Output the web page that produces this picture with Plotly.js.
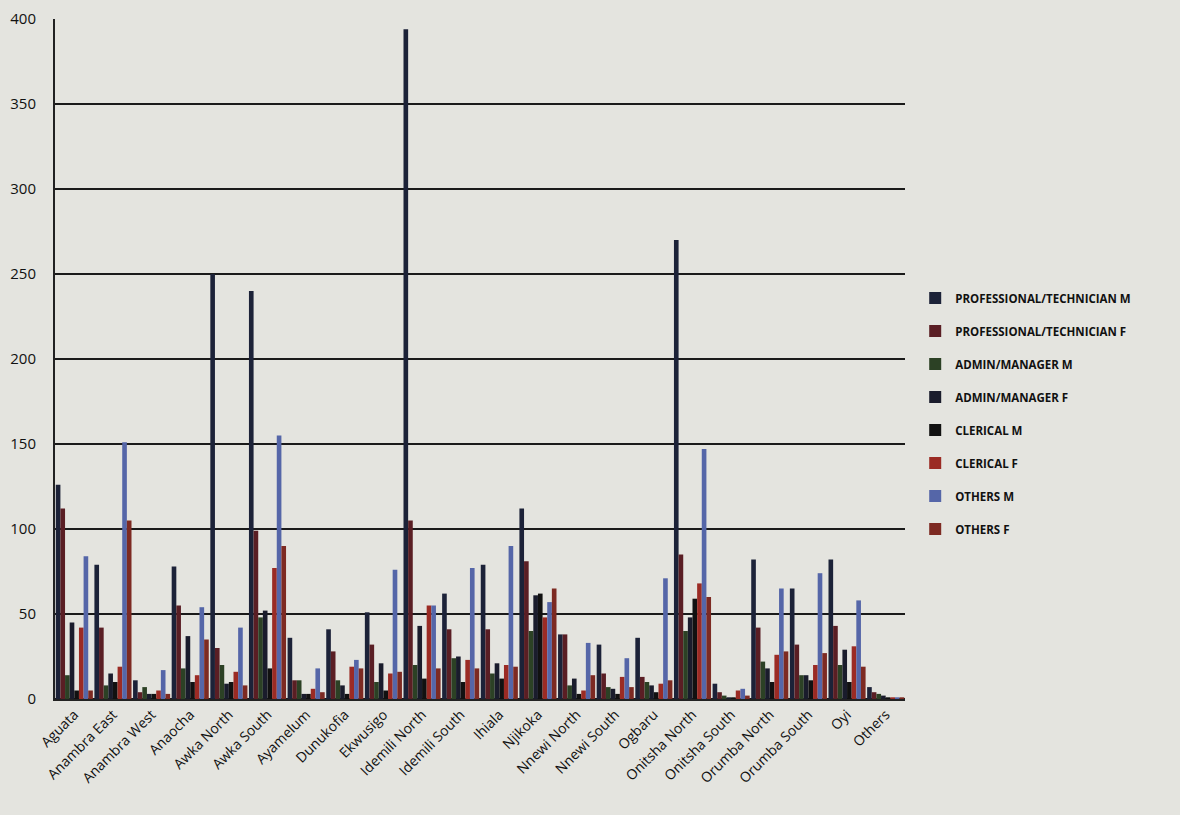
<!DOCTYPE html>
<html>
<head>
<meta charset="utf-8">
<script src="https://cdn.plot.ly/plotly-3.0.1.min.js"></script>
<style>
  html, body { margin: 0; padding: 0; background: #e4e4df; }
  #chart { width: 1180px; height: 815px; }
</style>
</head>
<body>
<div id="chart"></div>
<script>
const categories = ["Aguata", "Anambra East", "Anambra West", "Anaocha", "Awka North", "Awka South",
  "Ayamelum", "Dunukofia", "Ekwusigo", "Idemili North", "Idemili South", "Ihiala", "Njikoka",
  "Nnewi North", "Nnewi South", "Ogbaru", "Onitsha North", "Onitsha South", "Orumba North",
  "Orumba South", "Oyi", "Others"];

const seriesNames = ["PROFESSIONAL/TECHNICIAN M", "PROFESSIONAL/TECHNICIAN F", "ADMIN/MANAGER M",
  "ADMIN/MANAGER F", "CLERICAL M", "CLERICAL F", "OTHERS M", "OTHERS F"];

const profTechM = [126, 79, 11, 78, 250, 240, 36, 41, 51, 394, 62, 79, 112, 38, 32, 36, 270, 9, 82, 65, 82, 7];
const profTechF = [112, 42, 4, 55, 30, 99, 11, 28, 32, 105, 41, 41, 81, 38, 15, 13, 85, 4, 42, 32, 43, 4];
const adminM    = [14, 8, 7, 18, 20, 48, 11, 11, 10, 20, 24, 15, 40, 8, 7, 10, 40, 2, 22, 14, 20, 3];
const adminF    = [45, 15, 3, 37, 9, 52, 3, 8, 21, 43, 25, 21, 61, 12, 6, 8, 48, 1, 18, 14, 29, 2];
const clericalM = [5, 10, 3, 10, 10, 18, 3, 3, 5, 12, 10, 12, 62, 3, 3, 4, 59, 1, 10, 11, 10, 1];
const clericalF = [42, 19, 5, 14, 16, 77, 6, 19, 15, 55, 23, 20, 48, 5, 13, 9, 68, 5, 26, 20, 31, 1];
const othersM   = [84, 151, 17, 54, 42, 155, 18, 23, 76, 55, 77, 90, 57, 33, 24, 71, 147, 6, 65, 74, 58, 1];
const othersF   = [5, 105, 3, 35, 8, 90, 4, 18, 16, 18, 18, 19, 65, 14, 7, 11, 60, 2, 28, 27, 19, 1];

const seriesValues = [profTechM, profTechF, adminM, adminF, clericalM, clericalF, othersM, othersF];
const colors = ["#1c2238", "#5a1e24", "#2c4125", "#1a1c2c", "#111111", "#9b2b24", "#5566a8", "#7d2a22"];

const traces = seriesNames.map((name, i) => ({
  type: "bar",
  name: name,
  x: categories,
  y: seriesValues[i],
  legendgroup: "g" + i,
  marker: { color: colors[i], line: { width: 0 } }
}));

const layout = {
  width: 1180,
  height: 815,
  paper_bgcolor: "#e4e4df",
  plot_bgcolor: "#e4e4df",
  margin: { l: 55, r: 275, t: 19, b: 116 },
  barmode: "group",
  bargap: 0.04,
  bargroupgap: 0,
  font: { family: "Open Sans, sans-serif", color: "#111111", size: 14 },
  xaxis: {
    type: "category",
    tickangle: -45,
    tickfont: { size: 14, color: "#111111" },
    showgrid: false,
    showline: true,
    linecolor: "#222222",
    linewidth: 2,
    ticks: "",
    automargin: false
  },
  yaxis: {
    range: [0, 400],
    dtick: 50,
    tickfont: { size: 15, color: "#111111" },
    showgrid: true,
    gridcolor: "#1a1a1a",
    gridwidth: 2,
    zeroline: true,
    zerolinecolor: "#1a1a1a",
    zerolinewidth: 2,
    showline: true,
    linecolor: "#222222",
    linewidth: 2,
    ticks: "",
    ticklabelstandoff: 14
  },
  legend: {
    x: 1.012,
    y: 0.611,
    xanchor: "left",
    yanchor: "top",
    traceorder: "grouped",
    tracegroupgap: 14,
    bgcolor: "rgba(0,0,0,0)",
    font: { size: 11.5, color: "#111111", family: "Open Sans, sans-serif", weight: 700 },
    itemwidth: 30
  },
  showlegend: true
};

Plotly.newPlot("chart", traces, layout, { displayModeBar: false, staticPlot: true });
</script>
</body>
</html>
